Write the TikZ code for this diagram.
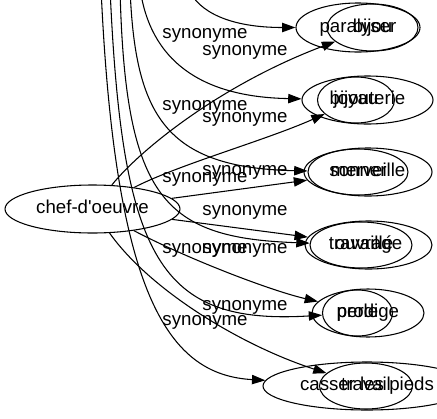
\documentclass[tikz,border=0pt]{standalone}
\usepackage{fontspec}
\setmainfont{Liberation Sans}[Ligatures=TeXOff]
\usetikzlibrary{shapes.geometric,arrows.meta}
\begin{document}
\begin{tikzpicture}[x=0.75pt,y=-0.75pt,
  every node/.style={font=\fontsize{14}{16}\selectfont, text height=10pt, text depth=3pt},
  word/.style={draw, ellipse, inner sep=0pt, line width=0.8pt},
  lbl/.style={inner sep=0pt},
  edge/.style={line width=0.8pt, -{Triangle[length=10pt,width=7pt]}}]
\useasboundingbox (0,0) rectangle (437,419);
\clip (0,0) rectangle (437,419);
% nodes
\node[word, minimum width=131.25pt, minimum height=36pt] (chef) at (92.5,209) {chef-d'oeuvre};
\node[word, minimum width=93pt, minimum height=36.75pt] (paralyser) at (358,27.5) {paralyser};
\node[word, minimum width=68.25pt, minimum height=35.25pt] (bijou) at (372.5,27.5) {bijou};
\node[word, minimum width=98.25pt, minimum height=36pt] (bijouterie) at (367.5,100) {bijouterie};
\node[word, minimum width=57.75pt, minimum height=34.5pt] (joyau) at (356,100) {joyau};
\node[word, minimum width=96pt, minimum height=36pt] (merveille) at (368,172) {merveille};
\node[word, minimum width=75pt, minimum height=34.5pt] (sonner) at (358,172) {sonner};
\node[word, minimum width=95.25pt, minimum height=36pt] (ouvrage) at (368.5,245) {ouvrage};
\node[word, minimum width=76.5pt, minimum height=34.5pt] (travaille) at (361,245) {travaillé};
\node[word, minimum width=84pt, minimum height=36pt] (prodige) at (368,313) {prodige};
\node[word, minimum width=52.5pt, minimum height=34.5pt] (perle) at (357.5,313) {perle};
\node[word, minimum width=156pt, minimum height=36pt] (casser) at (367,386) {casser les pieds};
\node[word, minimum width=69.75pt, minimum height=34.5pt] (travail) at (366,386) {travail};
% free ends of the edges coming from above
\coordinate (u1) at (188,-12);
\coordinate (u2) at (140,-12);
\coordinate (u3) at (130,-12);
\coordinate (u4) at (120,-12);
\coordinate (u5) at (110,-12);
\coordinate (u6) at (101,-12);
% edges from chef-d'oeuvre
\draw[edge] (chef) .. controls (140,150) and (220,85) .. (bijou);
\draw[edge] (chef) .. controls (177.5,165) and (266.5,140) .. (joyau);
\draw[edge] (chef) -- (merveille);
\draw[edge] (chef) -- (ouvrage);
\draw[edge] (chef) .. controls (190,260) and (272,291) .. (prodige);
\draw[edge] (chef) .. controls (150,290) and (240,345) .. (travail);
% edges from above
\draw[edge] (u1) .. controls (198,12) and (230,27.5) .. (paralyser);
\draw[edge] (u2) .. controls (150,60) and (200,97) .. (bijouterie);
\draw[edge] (u3) .. controls (135,115) and (165,168) .. (sonner);
\draw[edge] (u4) .. controls (125,200) and (165,238) .. (travaille);
\draw[edge] (u5) .. controls (122,260) and (160,325) .. (perle);
\draw[edge] (u6) .. controls (115,300) and (170,375) .. (casser);
% edge labels
\node[lbl] (lx1) at (245,51) {synonyme};
\node[lbl] (lx2) at (245,118) {synonyme};
\node[lbl] (lx3) at (245,171) {synonyme};
\node[lbl] (lx4) at (245,211) {synonyme};
\node[lbl] (lx5) at (245,249) {synonyme};
\node[lbl] (lx6) at (245,306) {synonyme};
\node[lbl] (ly1) at (205,34) {synonyme};
\node[lbl] (ly2) at (205,106) {synonyme};
\node[lbl] (ly3) at (205,178) {synonyme};
\node[lbl] (ly4) at (205,249) {synonyme};
\node[lbl] (ly5) at (205,321) {synonyme};
\end{tikzpicture}
\end{document}
